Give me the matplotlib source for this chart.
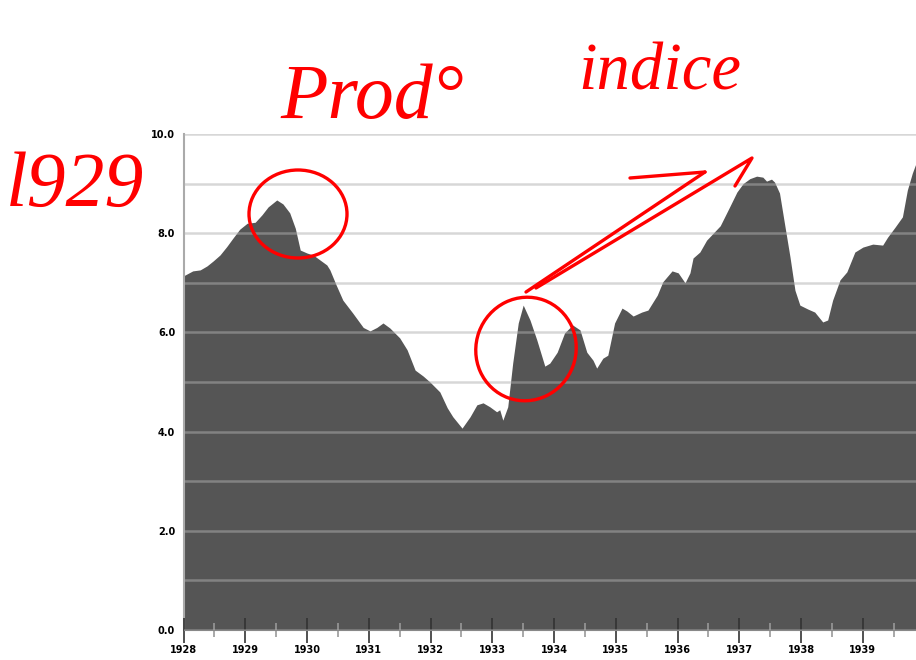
import matplotlib
matplotlib.use("Agg")
import matplotlib.pyplot as plt
import matplotlib.transforms as mtransforms
from matplotlib.patches import Ellipse
from matplotlib.ticker import MultipleLocator, FixedLocator

# ---------------------------------------------------------------------------
# Production index (decimal year, index value)
# ---------------------------------------------------------------------------
YEARS = [
    1928.00, 1928.15, 1928.27, 1928.38, 1928.48, 1928.59, 1928.70, 1928.80,
    1928.91, 1929.03, 1929.16, 1929.27, 1929.37, 1929.51, 1929.61, 1929.72,
    1929.81, 1929.89, 1930.00, 1930.10, 1930.21, 1930.32, 1930.37, 1930.47,
    1930.58, 1930.74, 1930.91, 1931.02, 1931.13, 1931.23, 1931.34, 1931.50,
    1931.62, 1931.75, 1931.88, 1931.99, 1932.15, 1932.27, 1932.36, 1932.51,
    1932.64, 1932.75, 1932.85, 1932.96, 1933.07, 1933.12, 1933.17, 1933.25,
    1933.33, 1933.42, 1933.50, 1933.61, 1933.72, 1933.85, 1933.93, 1934.05,
    1934.17, 1934.30, 1934.42, 1934.53, 1934.63, 1934.69, 1934.79, 1934.87,
    1934.98, 1935.10, 1935.18, 1935.28, 1935.42, 1935.52, 1935.67, 1935.76,
    1935.91, 1936.01, 1936.12, 1936.20, 1936.25, 1936.36, 1936.47, 1936.69,
    1936.85, 1936.96, 1937.06, 1937.17, 1937.28, 1937.38, 1937.44, 1937.52,
    1937.57, 1937.65, 1937.73, 1937.82, 1937.90, 1937.98, 1938.11, 1938.22,
    1938.35, 1938.43, 1938.51, 1938.63, 1938.74, 1938.87, 1939.00, 1939.16,
    1939.32, 1939.40, 1939.52, 1939.64, 1939.72, 1939.80, 1939.86, 1939.95,
]
INDEX = [
    7.14, 7.24, 7.26, 7.34, 7.44, 7.56, 7.73, 7.90,
    8.08, 8.20, 8.22, 8.37, 8.53, 8.67, 8.59, 8.41,
    8.10, 7.66, 7.60, 7.56, 7.46, 7.36, 7.26, 6.96,
    6.65, 6.39, 6.10, 6.03, 6.10, 6.19, 6.09, 5.89,
    5.65, 5.24, 5.12, 5.00, 4.80, 4.48, 4.30, 4.07,
    4.30, 4.54, 4.58, 4.50, 4.40, 4.44, 4.23, 4.50,
    5.38, 6.19, 6.55, 6.25, 5.85, 5.32, 5.38, 5.60,
    5.99, 6.15, 6.05, 5.60, 5.44, 5.28, 5.48, 5.54,
    6.19, 6.49, 6.43, 6.33, 6.41, 6.45, 6.75, 7.02,
    7.24, 7.20, 7.00, 7.20, 7.50, 7.62, 7.86, 8.15,
    8.55, 8.83, 9.00, 9.10, 9.15, 9.13, 9.05, 9.09,
    9.03, 8.81, 8.20, 7.52, 6.85, 6.55, 6.47, 6.41,
    6.21, 6.25, 6.65, 7.06, 7.22, 7.62, 7.72, 7.78,
    7.76, 7.92, 8.12, 8.33, 8.87, 9.21, 9.41, 9.60,
]
TICK_YEARS = list(range(1928, 1940))
Y_LABELS = [0, 2, 4, 6, 8, 10]

W, H = 916, 660
fig = plt.figure(figsize=(W / 100, H / 100), dpi=100)
ax = fig.add_axes([183.5 / W, 1 - 630 / H, 1 - 183.5 / W, (630 - 134) / H])

ax.fill_between(YEARS, INDEX, 0, color="#555555", linewidth=0, zorder=1)

ax.set_xlim(1928, 1939.86)
ax.set_ylim(0, 10)

# grid every 1.0, labels every 2.0
ax.yaxis.set_major_locator(FixedLocator(Y_LABELS))
ax.yaxis.set_minor_locator(MultipleLocator(1))
ax.grid(True, axis="y", which="both", color="#b0b0b0", alpha=0.5,
        linewidth=1.8, zorder=2)
ax.set_axisbelow(False)
ax.yaxis.set_major_formatter(lambda v, p: f"{v:.1f}")
ax.tick_params(axis="y", which="both", length=0, pad=6,
               labelsize=7)
for t in ax.get_yticklabels():
    t.set_fontweight("bold")

ax.xaxis.set_major_locator(FixedLocator(TICK_YEARS))
ax.xaxis.set_minor_locator(MultipleLocator(0.5))
ax.set_xticklabels([str(y) for y in TICK_YEARS], fontsize=7,
                   fontweight="bold")
ax.tick_params(axis="x", which="major", direction="inout", length=18,
               width=1.2, color="#333333", pad=2)
ax.tick_params(axis="x", which="minor", direction="inout", length=10,
               width=1.2, color="#999999")

for s in ("top", "right"):
    ax.spines[s].set_visible(False)
ax.spines["left"].set_color("#aaaaaa")
ax.spines["left"].set_linewidth(1.5)
ax.spines["bottom"].set_color("#888888")
ax.spines["bottom"].set_zorder(3)

# ---------------------------------------------------------------------------
# red handwritten notes, placed in pixel coords (origin top-left)
# ---------------------------------------------------------------------------
px = mtransforms.Affine2D().scale(1 / W, -1 / H).translate(0, 1) + fig.transFigure
red = "#ff0000"

fig.text(6, 206, "l929", transform=px, color=red, fontsize=56,
         fontstyle="italic", family="Liberation Serif", va="baseline")
fig.text(280, 118, "Prod°", transform=px, color=red, fontsize=56,
         fontstyle="italic", family="Liberation Serif", va="baseline")
fig.text(578, 90, "indice", transform=px, color=red, fontsize=48,
         fontstyle="italic", family="Liberation Serif", va="baseline")

fig.add_artist(Ellipse((298, 214), 98, 88, transform=px, fill=False,
                       edgecolor=red, linewidth=2.4))
fig.add_artist(Ellipse((526, 349), 100, 104, angle=20, transform=px,
                       fill=False, edgecolor=red, linewidth=2.4))

arrow_a = [(526, 292), (705, 172)]
arrow_bar = [(630, 178), (705, 172)]
arrow_b = [(536, 288), (752, 158), (735, 186)]
for pts in (arrow_a, arrow_bar, arrow_b):
    xs, ys = zip(*pts)
    fig.add_artist(plt.Line2D(xs, ys, transform=px, color=red,
                              linewidth=2.4, solid_capstyle="round"))

fig.savefig("out.png", dpi=100)
